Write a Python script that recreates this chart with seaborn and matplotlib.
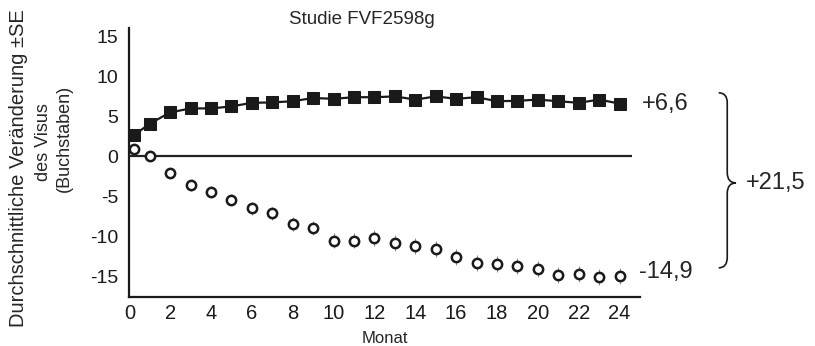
import numpy as np
import pandas as pd
import matplotlib
matplotlib.use("Agg")
import matplotlib.pyplot as plt
import seaborn as sns
from matplotlib.path import Path
from matplotlib.patches import PathPatch

## DATA
monat = [0.25, 1, 2, 3, 4, 5, 6, 7, 8, 9, 10, 11, 12, 13, 14, 15, 16, 17, 18, 19, 20, 21, 22, 23, 24]
behandlung = [2.7, 4.1, 5.5, 6.0, 6.0, 6.25, 6.7, 6.75, 6.9, 7.3, 7.2, 7.4, 7.4, 7.5, 7.1, 7.5, 7.2, 7.4,
              6.9, 6.95, 7.1, 6.9, 6.7, 7.1, 6.6]
behandlung_se = [0.5, 0.5, 0.5, 0.5, 0.5, 0.5, 0.5, 0.5, 0.6, 0.6, 0.6, 0.6, 0.6, 0.6, 0.6, 0.7, 0.6, 0.6,
                 0.6, 0.6, 0.6, 0.7, 0.7, 0.7, 0.7]
kontrolle = [0.9, 0.0, -2.1, -3.6, -4.4, -5.4, -6.45, -7.1, -8.45, -8.9, -10.5, -10.5, -10.2, -10.8, -11.2,
             -11.6, -12.5, -13.3, -13.45, -13.7, -14.0, -14.8, -14.7, -15.0, -14.9]
kontrolle_se = [0.5, 0.5, 0.6, 0.7, 0.7, 0.7, 0.8, 0.8, 0.9, 0.9, 0.9, 0.9, 1.0, 1.0, 1.0, 1.0, 1.0, 1.0,
                1.0, 1.0, 1.0, 1.0, 1.0, 1.0, 1.0]
x_ticks = list(range(0, 25, 2))
y_ticks = [-15, -10, -5, 0, 5, 10, 15]

df = pd.DataFrame({'Monat': monat, 'Behandlung': behandlung, 'Kontrolle': kontrolle})

## STYLE
sns.set_style("white")
plt.rcParams['font.family'] = ['Liberation Sans', 'DejaVu Sans']
plt.rcParams['axes.unicode_minus'] = False

fig = plt.figure(figsize=(8.15, 3.46), dpi=100)
ax = fig.add_axes([0.1587, 0.1425, 0.6266, 0.7757])

# Zero line
ax.hlines(0, 0, 24.6, color='#222222', lw=1.6, zorder=1)

# Error bars
ax.errorbar(monat, behandlung, yerr=behandlung_se, fmt='none', ecolor='#888888', elinewidth=0.7, zorder=2)
ax.errorbar(monat, kontrolle, yerr=kontrolle_se, fmt='none', ecolor='#888888', elinewidth=0.7, zorder=2)

# Series
sns.lineplot(data=df, x='Monat', y='Behandlung', ax=ax, color='#1a1a1a', lw=1.6,
             marker='s', markersize=9, markeredgecolor='#1a1a1a', zorder=3)
sns.scatterplot(data=df, x='Monat', y='Kontrolle', ax=ax, marker='o', s=45,
                facecolor='white', edgecolor='#1a1a1a', linewidth=1.8, zorder=3)

# Axes
ax.set_xlim(0, 25)
ax.set_ylim(-17.5, 16)
ax.set_xticks(x_ticks)
ax.set_xticks(range(0, 25), minor=True)
ax.set_yticks(y_ticks)
ax.tick_params(axis='both', colors='#1a1a1a')
ax.tick_params(axis='x', which='both', direction='in', length=3, width=1, pad=5, labelsize=14.5)
ax.tick_params(axis='y', direction='out', length=3, width=1, pad=5, labelsize=14)
for s in ['top', 'right']:
    ax.spines[s].set_visible(False)
for s in ['left', 'bottom']:
    ax.spines[s].set_linewidth(1.6)
    ax.spines[s].set_color('#1a1a1a')

ax.set_xlabel('Monat', fontsize=12, labelpad=6)
ax.set_ylabel('')
fig.text(19 / 815, 1 - 168 / 346, 'Durchschnittliche Veränderung ±SE', rotation=90,
         fontsize=14.5, ha='center', va='center')
fig.text(43 / 815, 1 - 142 / 346, 'des Visus', rotation=90, fontsize=13, ha='center', va='center')
fig.text(64 / 815, 1 - 138 / 346, '(Buchstaben)', rotation=90, fontsize=13, ha='center', va='center')
fig.text(362 / 815, 1 - 19 / 346, 'Studie FVF2598g', fontsize=13.5, ha='center', va='center')

# Annotations on the right
ax.text(25.1, 6.5, '+6,6', fontsize=17, va='center', ha='left', clip_on=False)
ax.text(24.95, -14.4, '-14,9', fontsize=17, va='center', ha='left', clip_on=False)
ax.text(30.2, -3.3, '+21,5', fontsize=17, va='center', ha='left', clip_on=False)

# Brace
verts = [(28.85, 7.95), (29.27, 7.95), (29.27, 6.7),
         (29.27, -2.0),
         (29.27, -3.3), (29.7, -3.3),
         (29.27, -3.3), (29.27, -4.6),
         (29.27, -12.6),
         (29.27, -13.9), (28.85, -13.9)]
codes = [Path.MOVETO, Path.CURVE3, Path.CURVE3,
         Path.LINETO,
         Path.CURVE3, Path.CURVE3,
         Path.CURVE3, Path.CURVE3,
         Path.LINETO,
         Path.CURVE3, Path.CURVE3]
ax.add_patch(PathPatch(Path(verts, codes), fill=False, lw=1.2, color='#1a1a1a', clip_on=False))

plt.savefig('out.png', dpi=100)
